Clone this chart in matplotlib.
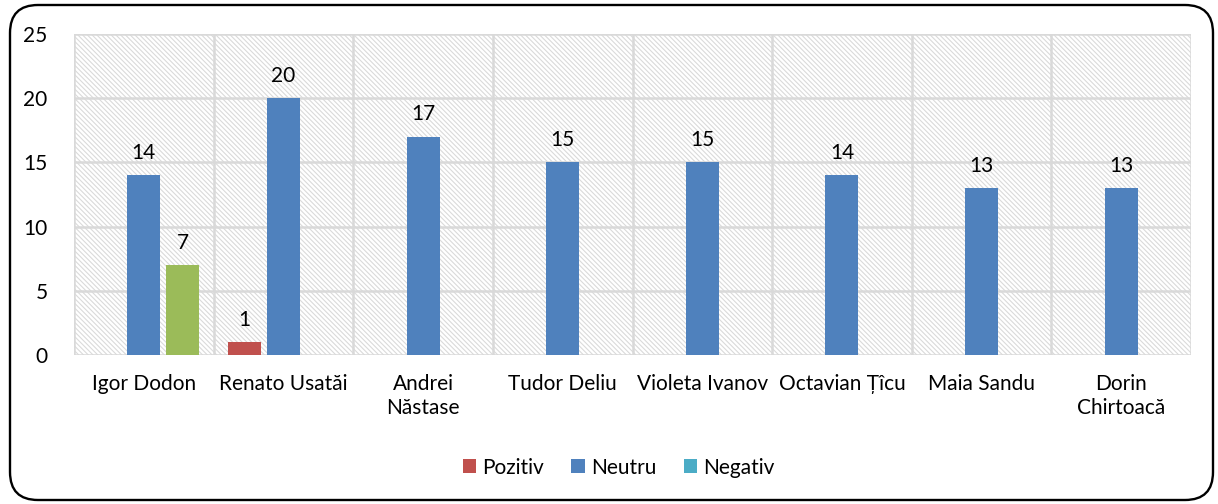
import matplotlib
matplotlib.use("Agg")
import matplotlib.pyplot as plt
import numpy as np
from matplotlib.patches import FancyBboxPatch, Rectangle, Patch

plt.rcParams['font.family'] = ['Lato', 'DejaVu Sans']
plt.rcParams['hatch.linewidth'] = 0.8
plt.rcParams['hatch.color'] = '#dadada'

categories = ["Igor Dodon", "Renato Usatăi", "Andrei\nNăstase", "Tudor Deliu",
              "Violeta Ivanov", "Octavian Țîcu", "Maia Sandu", "Dorin\nChirtoacă"]
series_names = ["Pozitiv", "Neutru", "Negativ"]
pozitiv = [0, 1, 0, 0, 0, 0, 0, 0]
neutru = [14, 20, 17, 15, 15, 14, 13, 13]
negativ = [7, 0, 0, 0, 0, 0, 0, 0]
y_ticks = [0, 5, 10, 15, 20, 25]

series_colors = ["#C0504D", "#4F81BD", "#4BACC6"]
# individual bar colour overrides: (series index, category index) -> colour
point_colors = {(2, 0): "#9BBB59"}

FS = 15

fig = plt.figure(figsize=(12.18, 5.04), dpi=100)
ax = fig.add_axes([0.0608, 0.2956, 0.9170, 0.6369])

n = len(categories)
x = np.arange(n)
bar_w = 0.236
offset = 0.28

ax.set_xlim(-0.5, n - 0.5)
ax.set_ylim(0, 25)

# hatched plot background
ax.add_patch(Rectangle((0, 0), 1, 1, transform=ax.transAxes, facecolor='white',
                       edgecolor='#dadada', hatch='\\' * 7, linewidth=0, zorder=0))

# grid lines
grid_c = '#d9d9d9'
for yv in y_ticks[1:]:
    ax.axhline(yv, color=grid_c, lw=1.8, zorder=1)
for b in np.arange(-0.5, n + 0.5, 1.0):
    ax.axvline(b, color=grid_c, lw=1.8, zorder=1)
ax.axhline(0, color=grid_c, lw=1.8, zorder=1)

for s in ax.spines.values():
    s.set_visible(False)

for si, vals in enumerate([pozitiv, neutru, negativ]):
    for ci, v in enumerate(vals):
        if v == 0:
            continue
        xc = x[ci] + (si - 1) * offset
        col = point_colors.get((si, ci), series_colors[si])
        ax.bar(xc, v, width=bar_w, color=col, zorder=3)
        ax.annotate(str(v), (xc, v), xytext=(0, 9), textcoords='offset points',
                    ha='center', va='bottom', fontsize=FS, color='#000000')

ax.set_yticks(y_ticks)
ax.set_yticklabels([str(t) for t in y_ticks], fontsize=FS)
ax.set_xticks(x)
ax.set_xticklabels(categories, fontsize=FS, linespacing=1.2, va='top')
ax.tick_params(axis='y', length=0, pad=19)
ax.tick_params(axis='x', length=0, pad=14)

handles = [Patch(facecolor=c, edgecolor='none') for c in series_colors]
fig.legend(handles, series_names, loc='center', bbox_to_anchor=(0.508, 0.072),
           ncol=3, frameon=False, fontsize=FS, handlelength=0.65, handleheight=0.65,
           handletextpad=0.3, columnspacing=1.3)

# rounded chart border
border = FancyBboxPatch((0.10, 0.04), 12.03, 4.95, boxstyle="round,pad=0,rounding_size=0.28",
                        transform=fig.dpi_scale_trans, facecolor='none',
                        edgecolor='black', linewidth=1.7, zorder=10)
fig.patches.append(border)

fig.savefig("out.png", dpi=100)
